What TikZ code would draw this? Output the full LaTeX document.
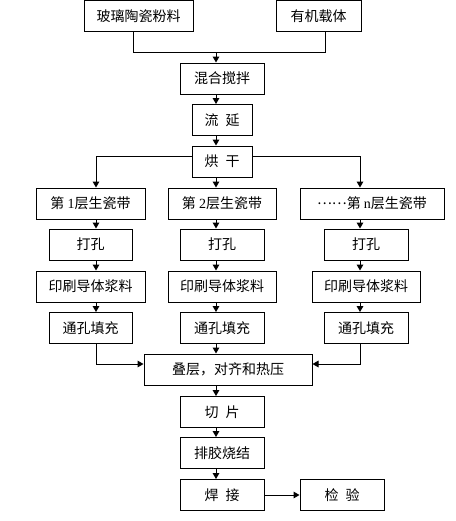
\documentclass[tikz,border=0pt]{standalone}
\usepackage{fontspec}
\setmainfont{Noto Sans CJK SC}
\newfontfamily\lat{Liberation Serif}
\usetikzlibrary{arrows.meta}
\begin{document}
\begin{tikzpicture}[x=0.75pt,y=-0.75pt,line width=0.75pt,
    box/.style={draw,inner sep=0pt,minimum height=23.25pt,font=\fontsize{10.5}{12}\selectfont},
    bw/.style={minimum width=#1*0.75pt},
    arr/.style={-{Triangle[length=4.5pt,width=5pt]}}]
            \useasboundingbox (0,0) rectangle (456,521);
            \node[box,bw=109] (glass) at (138.5,16) {玻璃陶瓷粉料};
            \node[box,bw=85] (organic) at (318.5,16) {有机载体};
            \node[box,bw=84] (mix) at (222,78.5) {混合搅拌};
            \node[box,bw=60] (cast) at (222,120) {流\hspace{0.5em}延};
            \node[box,bw=60] (dry) at (222,161.5) {烘\hspace{0.5em}干};
            \node[box,bw=109] (tape1) at (90.5,203.5) {第 {\lat 1}层生瓷带};
            \node[box,bw=108] (tape2) at (222,203.5) {第 {\lat 2}层生瓷带};
            \node[box,bw=144] (tapen) at (372,203.5) {\raisebox{0.33em}{……}第 {\lat n}层生瓷带};
            \node[box,bw=83] (punch1) at (90.5,244.5) {打孔};
            \node[box,bw=84] (punch2) at (222,244.5) {打孔};
            \node[box,bw=84] (punchn) at (366,244.5) {打孔};
            \node[box,bw=109] (print1) at (90.5,286.5) {印刷导体浆料};
            \node[box,bw=108] (print2) at (222,286.5) {印刷导体浆料};
            \node[box,bw=108] (printn) at (366,286.5) {印刷导体浆料};
            \node[box,bw=83] (fill1) at (90.5,328) {通孔填充};
            \node[box,bw=84] (fill2) at (222,328) {通孔填充};
            \node[box,bw=84] (filln) at (366,328) {通孔填充};
            \node[box,bw=168] (stack) at (228,369.5) {叠层，对齐和热压};
            \node[box,bw=84] (cut) at (222,412) {切\hspace{0.5em}片};
            \node[box,bw=84] (fire) at (222,453) {排胶烧结};
            \node[box,bw=84] (weld) at (222,495) {焊\hspace{0.5em}接};
            \node[box,bw=84] (check) at (342,495) {检\hspace{0.5em}验};
            % columns of the arrows
            \coordinate (cl) at (96,0);
            \coordinate (cm) at (216,0);
            \coordinate (cr) at (360,0);
            \coordinate (jl) at (133,52);
            \coordinate (jm) at (216,52);
            \coordinate (jr) at (325,52);
            \coordinate (sl) at (96,156);
            \coordinate (sr) at (360,156);
            \coordinate (fl) at (96,364);
            \coordinate (fr) at (360,364);
            \draw (glass.south -| jl) -- (jl) -- (jr) -- (organic.south -| jr);
            \draw[arr] (jm) -- (mix.north -| jm);
            \draw[arr] (mix.south -| cm) -- (cast.north -| cm);
            \draw[arr] (cast.south -| cm) -- (dry.north -| cm);
            \draw[arr] (dry.west |- sl) -- (sl) -- (tape1.north -| sl);
            \draw[arr] (dry.east |- sr) -- (sr) -- (tapen.north -| sr);
            \draw[arr] (dry.south -| cm) -- (tape2.north -| cm);
            \draw[arr] (tape1.south -| cl) -- (punch1.north -| cl);
            \draw[arr] (punch1.south -| cl) -- (print1.north -| cl);
            \draw[arr] (print1.south -| cl) -- (fill1.north -| cl);
            \draw[arr] (tape2.south -| cm) -- (punch2.north -| cm);
            \draw[arr] (punch2.south -| cm) -- (print2.north -| cm);
            \draw[arr] (print2.south -| cm) -- (fill2.north -| cm);
            \draw[arr] (tapen.south -| cr) -- (punchn.north -| cr);
            \draw[arr] (punchn.south -| cr) -- (printn.north -| cr);
            \draw[arr] (printn.south -| cr) -- (filln.north -| cr);
            \draw[arr] (fill1.south -| fl) -- (fl) -- (stack.west |- fl);
            \draw[arr] (filln.south -| fr) -- (fr) -- (stack.east |- fr);
            \draw[arr] (fill2.south -| cm) -- (stack.north -| cm);
            \draw[arr] (stack.south -| cm) -- (cut.north -| cm);
            \draw[arr] (cut.south -| cm) -- (fire.north -| cm);
            \draw[arr] (fire.south -| cm) -- (weld.north -| cm);
            \draw[arr] (weld.east) -- (check.west);
        \end{tikzpicture}
\end{document}
